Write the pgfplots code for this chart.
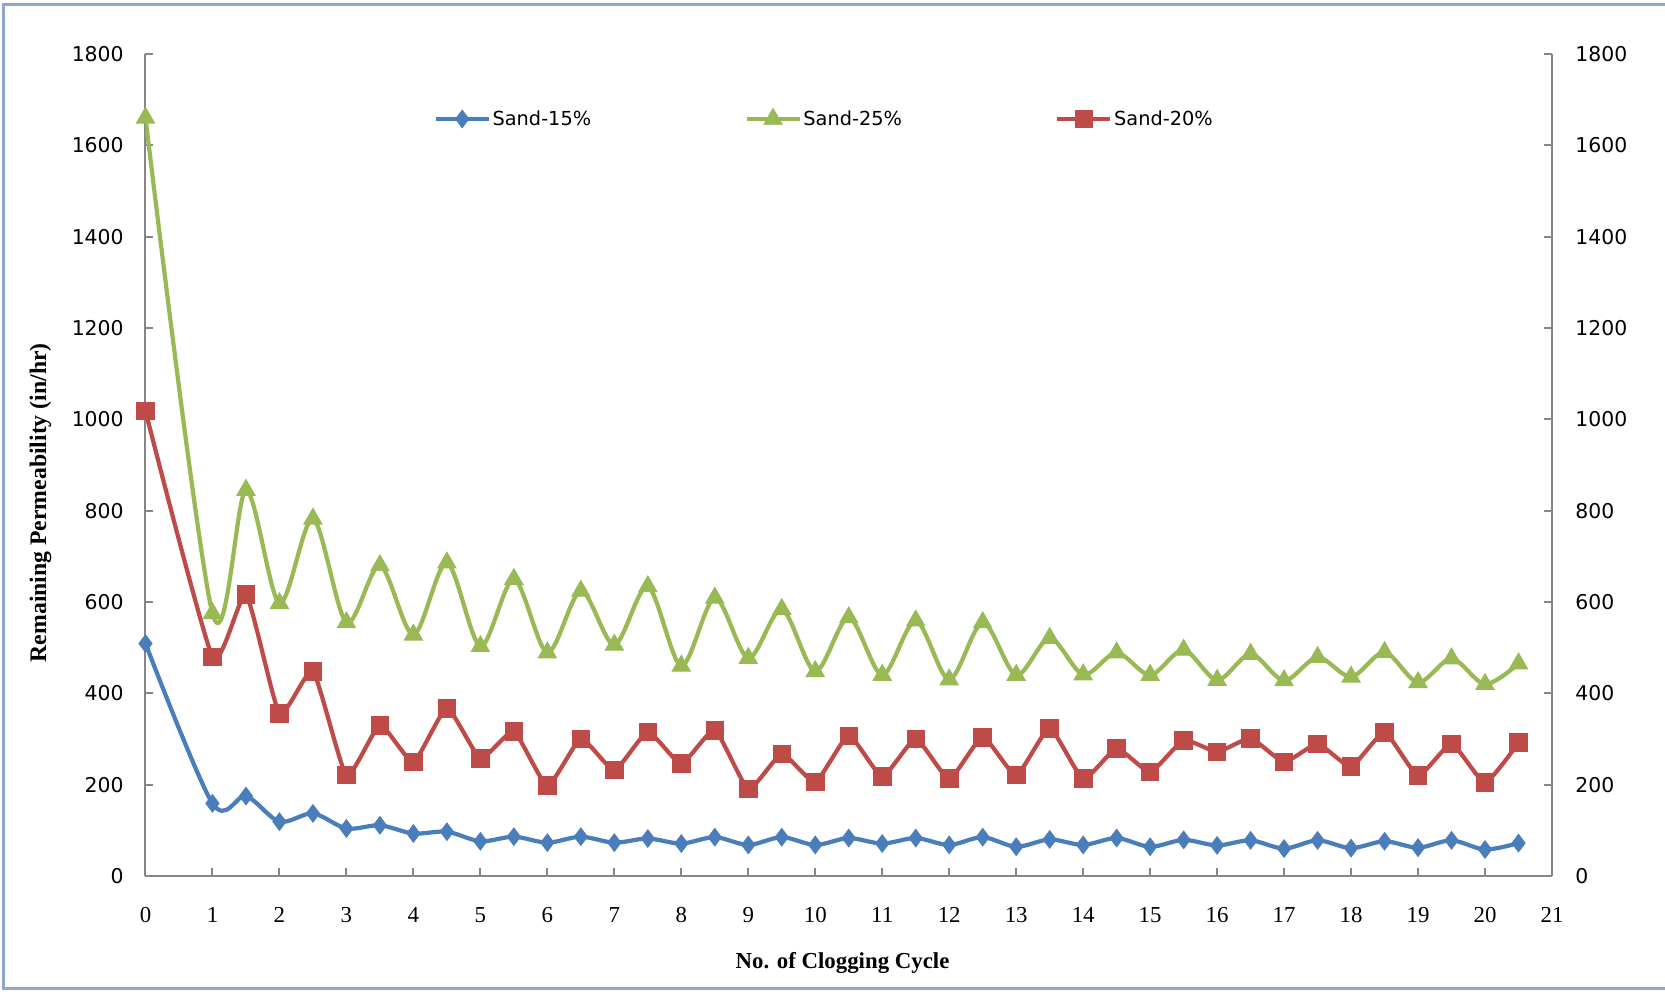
\documentclass[border=0pt]{standalone}
\usepackage{fontspec}
\setmainfont{Liberation Serif}
\newfontfamily\dv{DejaVu Sans}
\usepackage{pgfplots}
\pgfplotsset{compat=1.18}
\definecolor{sblue}{HTML}{4A7EBB}
\definecolor{sred}{HTML}{BE4B48}
\definecolor{sgreen}{HTML}{98B954}
\definecolor{axgray}{HTML}{868686}
\definecolor{framec}{HTML}{8FA8CB}

\pgfplotstableread{
x blue green red
0 509 1660 1018
1 159 575 480
1.5 175 845 616
2 119 597 356
2.5 137 782 448
3 104 555 221
3.5 111 680 330
4 93 528 250
4.5 97 686 367
5 76 503 258
5.5 86 650 316
6 73 489 198
6.5 86 624 300
7 73 506 232
7.5 82 634 315
8 71 460 246
8.5 85 609 319
9 68 477 191
9.5 85 584 267
10 68 448 206
10.5 83 566 307
11 71 440 218
11.5 83 559 300
12 68 430 213
12.5 85 555 304
13 64 440 221
13.5 80 521 323
14 68 441 213
14.5 83 489 279
15 64 440 228
15.5 79 495 297
16 67 429 272
16.5 78 486 301
17 60 428 250
17.5 78 479 289
18 61 436 240
18.5 76 490 314
19 62 424 220
19.5 78 476 289
20 58 420 205
20.5 72 465 292
}\datatable

\begin{document}
\begin{tikzpicture}
\useasboundingbox (0,0) rectangle (33.3cm,19.84cm);
\fill[white] (0,0) rectangle (33.3cm,19.84cm);
\draw[framec, line width=0.06cm] (0.07cm,0.07cm) rectangle (34cm,19.74cm);
\begin{axis}[
  scale only axis, width=28.13cm, height=16.44cm,
  at={(2.91cm,2.32cm)}, anchor=south west,
  xmin=0, xmax=21, ymin=0, ymax=1800,
  axis x line*=bottom, axis y line*=left,
  xtick={0,...,21}, ytick={0,200,...,1800},
  tick align=inside, major tick length=0.16cm,
  axis line style={axgray, line width=0.04cm},
  tick style={axgray, line width=0.04cm},
  /pgf/number format/assume math mode=true,
  /pgf/number format/1000 sep={},
  yticklabel style={font=\dv\fontsize{11.6}{13}\selectfont, inner sep=0pt, xshift=-0.43cm, anchor=east},
  xticklabel style={font=\fontsize{13}{15}\selectfont, inner sep=0pt, yshift=-0.62cm, anchor=north},
  xlabel={\textbf{No. of Clogging Cycle}},
  ylabel={\textbf{Remaining Permeability (in/hr)}},
  every axis x label/.style={at={(axis description cs:0.4956,0)}, anchor=center, yshift=-1.74cm, font=\fontsize{13}{15}\selectfont},
  every axis y label/.style={at={(axis description cs:0,0.454)}, xshift=-2.1cm, anchor=center, rotate=90, font=\fontsize{13.5}{15}\selectfont},
  legend style={at={(0.2046,0.921)}, anchor=west, draw=none, fill=none, inner sep=0pt,
    legend columns=3, font=\dv\fontsize{11}{13}\selectfont,
    nodes={inner sep=1pt},
    /tikz/every even column/.append style={column sep=3.03cm}},
  legend cell align=left,
  legend image code/.code={\draw[mark repeat=2, mark phase=2] plot coordinates {(0cm,0cm) (0.53cm,0cm) (1.06cm,0cm)};},
]
\addplot[sblue, line width=2.4pt, smooth, mark=diamond*, mark size=5pt, mark options={solid, fill=sblue, line width=0.5pt}] table[x=x, y=blue] {\datatable};
\addlegendentry{Sand-15\%}
\addplot[sgreen, line width=2.4pt, smooth, mark=triangle*, mark size=6pt, mark options={solid, fill=sgreen, line width=0.5pt}] table[x=x, y=green] {\datatable};
\addlegendentry{Sand-25\%}
\addplot[sred, line width=2.4pt, smooth, tension=0.3, mark=square*, mark size=5pt, mark options={solid, fill=sred, line width=0.5pt}] table[x=x, y=red] {\datatable};
\addlegendentry{Sand-20\%}
\end{axis}
\begin{axis}[
  scale only axis, width=28.13cm, height=16.44cm,
  at={(2.91cm,2.32cm)}, anchor=south west,
  xmin=0, xmax=21, ymin=0, ymax=1800,
  axis x line=none, axis y line*=right,
  ytick={0,200,...,1800},
  tick align=inside, major tick length=0.16cm,
  axis line style={axgray, line width=0.04cm},
  tick style={axgray, line width=0.04cm},
  /pgf/number format/assume math mode=true,
  /pgf/number format/1000 sep={},
  yticklabel style={font=\dv\fontsize{11.6}{13}\selectfont, inner sep=0pt, xshift=0.46cm, anchor=west},
]
\addplot[draw=none] coordinates {(0,0)};
\end{axis}
\end{tikzpicture}
\end{document}
